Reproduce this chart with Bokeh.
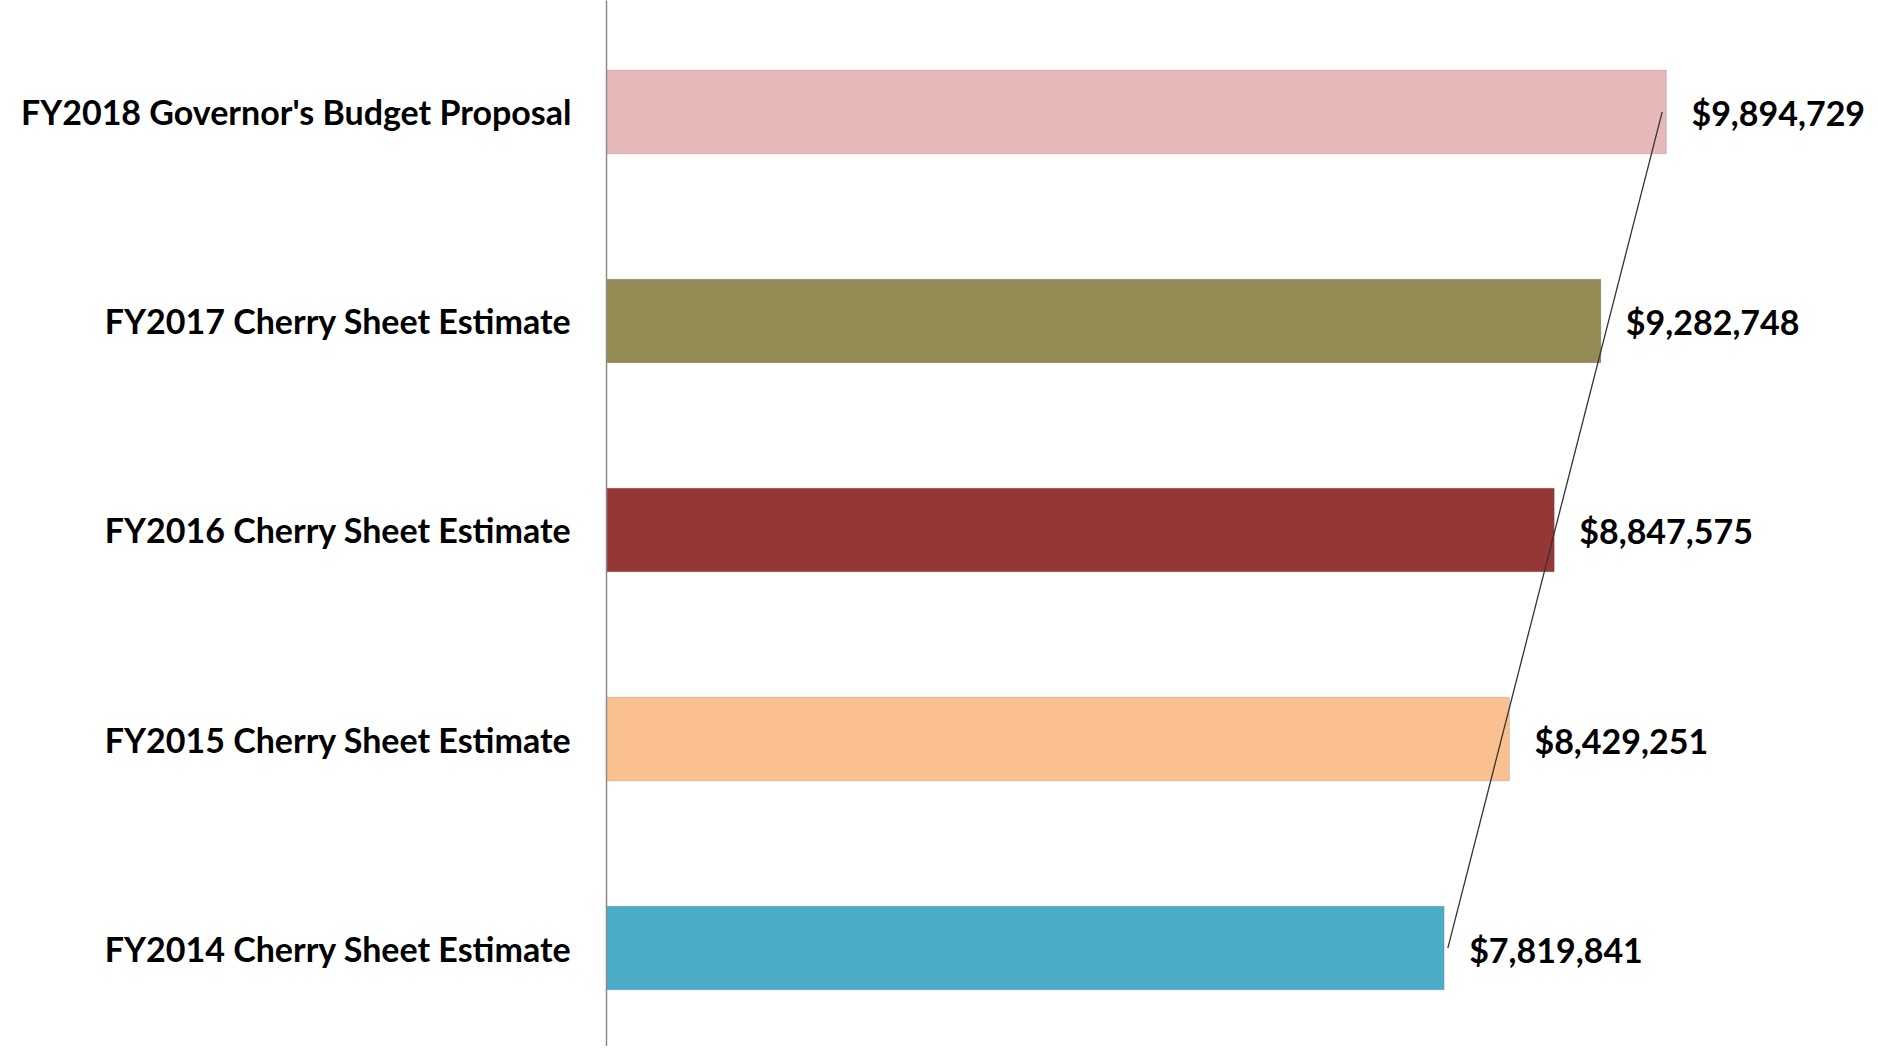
import numpy as np
from bokeh.plotting import figure
from bokeh.models import ColumnDataSource, Range1d, FixedTicker, LinearAxis
from bokeh.core.properties import value
from bokeh.embed import file_html
from bokeh.resources import INLINE

categories = [
    "FY2014 Cherry Sheet Estimate",
    "FY2015 Cherry Sheet Estimate",
    "FY2016 Cherry Sheet Estimate",
    "FY2017 Cherry Sheet Estimate",
    "FY2018 Governor's Budget Proposal",
]
amounts = [7819841, 8429251, 8847575, 9282748, 9894729]
colors = ["#4BACC6", "#FAC090", "#953735", "#948A54", "#E6B8B7"]
value_labels = ["${:,}".format(v) for v in amounts]

idx = list(range(len(categories)))
src = ColumnDataSource(dict(y=idx, amt=amounts, color=colors, lab=value_labels))

p = figure(width=1870, height=1046, output_backend="svg", toolbar_location=None,
           x_range=Range1d(0, 11.8e6), y_range=Range1d(-0.471, 4.533),
           min_border_left=606, min_border_right=0, min_border_top=0, min_border_bottom=0,
           x_axis_type=None, y_axis_type=None)
p.outline_line_color = None
p.grid.visible = False
p.background_fill_color = "white"
p.border_fill_color = "white"

p.hbar(y="y", right="amt", left=0, height=0.4, fill_color="color",
       line_color="#000000", line_alpha=0.12, line_width=1, source=src)

# linear trendline
slope, intercept = np.polyfit(idx, amounts, 1)
tx = [intercept + slope * i for i in (idx[0], idx[-1])]
p.line(x=tx, y=[idx[0], idx[-1]], line_color="#333333", line_width=1.3)

p.text(x="amt", y="y", text="lab", x_offset=25, y_offset=1, text_baseline="middle",
       text_align="left", text_font=value("Lato"), text_font_style="bold",
       text_font_size="34px", text_color="#000000", source=src)

yaxis = LinearAxis(ticker=FixedTicker(ticks=idx),
                   major_label_overrides={i: c for i, c in zip(idx, categories)})
yaxis.major_tick_line_color = None
yaxis.minor_tick_line_color = None
yaxis.axis_line_color = "#8a8a8a"
yaxis.axis_line_width = 1.5
yaxis.major_label_standoff = 29
yaxis.major_label_text_font = "Lato"
yaxis.major_label_text_font_style = "bold"
yaxis.major_label_text_font_size = "34px"
yaxis.major_label_text_color = "#000000"
p.add_layout(yaxis, "left")

open("out.html", "w").write(file_html(p, INLINE))
